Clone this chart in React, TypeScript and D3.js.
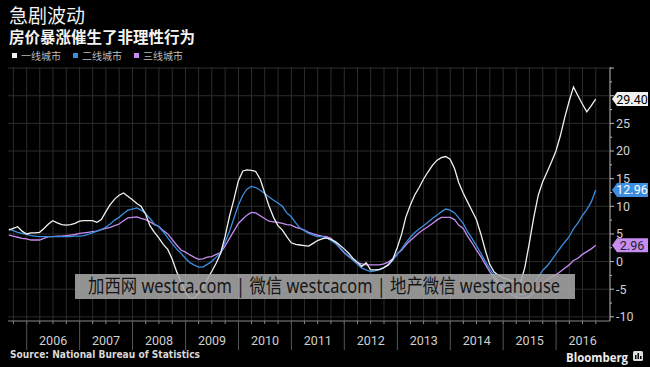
import React, { useEffect } from "react";
import * as d3 from "d3";

const W = 650;
const H = 367;

// year-on-year home price change, %, monthly from Aug 2005 to Sep 2016
const tier1 = [
  5.7, 6.0, 6.3, 5.5, 5.0, 5.2, 5.2, 5.3, 6.0, 6.8, 7.4, 7.0, 6.7, 6.6, 6.7, 6.9, 7.3, 7.4, 7.4, 7.4,
  7.1, 7.6, 9.0, 10.3, 11.3, 12.0, 12.4, 11.8, 11.2, 10.5, 10.0, 8.6, 6.5, 5.3, 4.3, 3.1, 2.2, 0.5, -1.8, -3.7,
  -5.6, -6.6, -6.6, -5.8, -4.6, -3.2, -1.8, -0.3, 1.5, 4.5, 8.2, 11.2, 14.6, 16.4, 16.6, 16.5, 16.3, 14.9, 12.5, 10.0,
  8.0, 6.5, 5.7, 4.5, 3.4, 3.1, 3.0, 2.9, 2.8, 3.3, 3.8, 4.1, 4.3, 4.0, 3.6, 3.0, 2.3, 1.5, 0.6, -0.1,
  -0.9, -0.2, -1.5, -1.5, -1.4, -1.1, -0.6, 0.4, 2.5, 5.0, 8.0, 10.2, 12.0, 13.4, 14.9, 16.2, 17.4, 18.3, 18.8, 19.0,
  18.5, 16.8, 14.3, 12.4, 10.8, 9.2, 7.6, 5.0, 2.0, -0.5, -1.9, -2.5, -2.9, -3.2, -3.5, -3.7, -3.9, -1.0, 3.3, 8.0,
  12.0, 14.4, 16.2, 18.0, 20.0, 22.8, 26.0, 29.0, 31.6, 30.0, 28.5, 27.1, 28.2, 29.4,
];
const tier2 = [
  5.9, 5.6, 5.3, 5.1, 4.9, 4.7, 4.6, 4.5, 4.5, 4.5, 4.5, 4.5, 4.5, 4.5, 4.5, 4.6, 4.6, 4.7, 4.9, 5.2,
  5.5, 5.8, 6.2, 6.8, 7.5, 8.0, 8.7, 9.3, 9.5, 9.7, 9.3, 8.7, 7.8, 6.8, 6.3, 5.4, 4.3, 3.3, 2.3, 1.5,
  0.6, -0.2, -0.6, -1.0, -1.0, -0.5, 0.0, 0.8, 1.6, 3.5, 5.5, 7.8, 10.2, 12.0, 13.1, 13.6, 13.4, 12.9, 12.3, 11.7,
  11.1, 10.6, 10.0, 8.8, 8.1, 7.0, 6.1, 5.6, 5.1, 4.8, 4.5, 4.5, 4.3, 3.8, 3.3, 2.6, 1.7, 1.0, 0.3, -0.5,
  -1.2, -1.5, -1.8, -1.7, -1.5, -1.1, -0.5, 0.2, 1.3, 2.3, 3.4, 4.4, 5.2, 5.9, 6.5, 7.1, 7.8, 8.4, 9.0, 9.5,
  9.3, 8.8, 7.9, 6.9, 5.4, 4.2, 2.9, 1.5, 0.0, -1.3, -2.4, -3.6, -4.3, -4.9, -5.4, -5.8, -6.0, -5.9, -5.3, -4.0,
  -2.8, -1.6, -0.8, 0.2, 1.4, 2.5, 3.5, 4.5, 5.9, 7.0, 8.3, 9.4, 10.8, 12.96,
];
const tier3 = [
  4.8, 4.6, 4.4, 4.2, 4.1, 3.9, 3.9, 3.9, 4.2, 4.5, 4.5, 4.6, 4.6, 4.7, 4.8, 4.9, 5.1, 5.2, 5.3, 5.4,
  5.5, 5.8, 6.0, 6.2, 6.5, 6.8, 7.4, 7.9, 8.0, 8.1, 7.8, 7.6, 7.2, 6.7, 6.4, 5.6, 5.0, 4.0, 3.0, 2.1,
  1.7, 1.2, 0.8, 0.4, 0.5, 0.8, 0.9, 1.3, 1.6, 2.8, 4.2, 5.5, 6.9, 7.7, 8.4, 8.9, 8.8, 8.3, 7.8, 7.3,
  7.2, 7.1, 6.9, 6.7, 6.6, 6.2, 6.0, 5.7, 5.3, 5.0, 4.8, 4.6, 4.5, 4.2, 3.4, 2.5, 1.6, 0.9, 0.3, -0.2,
  -0.4, -0.6, -0.6, -0.6, -0.6, -0.4, -0.1, 0.5, 1.4, 2.1, 3.0, 3.8, 4.5, 5.2, 5.8, 6.3, 6.9, 7.5, 8.0, 8.0,
  8.0, 7.6, 6.6, 6.0, 4.6, 3.4, 2.1, 0.9, -0.5, -1.8, -3.0, -4.2, -5.0, -5.6, -6.0, -6.4, -6.6, -6.6, -6.3, -5.6,
  -4.8, -4.1, -3.3, -2.8, -2.4, -1.8, -1.2, -0.6, 0.2, 0.6, 1.3, 1.8, 2.3, 2.96,
];

const seriesNames = ["一线城市", "二线城市", "三线城市"];
const seriesColors = ["#f0f0f0", "#3b8ee0", "#c68cf2"];
const lastLabels = ["29.40", "12.96", "2.96"];
const yTicks = [-10, -5, 0, 5, 10, 15, 20, 25];
const years = d3.range(2006, 2017);

const months = d3.range(tier1.length).map((i) => new Date(2005, 8 + i, 0));

const x = d3
  .scaleTime()
  .domain([new Date(2005, 7, 25), new Date(2016, 11, 31)])
  .range([8, 609]);
const y = d3.scaleLinear().domain([-10.75, 35.2]).range([321, 67]);

const line = d3
  .line<number>()
  .x((d, i) => x(months[i]))
  .y((d) => y(d));

const quarters = d3.timeMonth.every(3)!.range(new Date(2005, 9, 1), new Date(2017, 0, 1));
const numFont = "Roboto, 'Liberation Sans', sans-serif";
const cjkFont = "'Noto Sans CJK SC', sans-serif";

const App = () => {
  useEffect(() => {
    document.body.style.margin = "0";
    document.body.style.background = "#000";
  }, []);

  const series = [tier1, tier2, tier3];
  const tagText = ["#000", "#fff", "#222"];

  return (
    <svg width={W} height={H} style={{ position: "absolute", left: 0, top: 0, background: "#000" }}>
      <rect width={W} height={H} fill="#000" />

      <text x={9} y={23} fill="#f4f4f4" fontSize={19} fontFamily={cjkFont}>
        急剧波动
      </text>
      <text x={9} y={43} fill="#f4f4f4" fontSize={15.5} fontWeight="bold" fontFamily={cjkFont}>
        房价暴涨催生了非理性行为
      </text>

      {seriesNames.map((n, i) => (
        <g key={n} transform={`translate(${[12, 73, 134][i]},0)`}>
          <rect x={0} y={53} width={5} height={5} fill={seriesColors[i]} />
          <text x={9} y={60} fill="#bdbdbd" fontSize={10} fontFamily={cjkFont}>
            {n}
          </text>
        </g>
      ))}

      {/* grid */}
      {quarters.map((d) => (
        <line key={+d} x1={x(d)} x2={x(d)} y1={67} y2={321} stroke="#2c2c2c" />
      ))}
      {d3.range(-10, 36, 5).map((v) => (
        <line key={v} x1={8} x2={609} y1={y(v)} y2={y(v)} stroke="#2c2c2c" />
      ))}

      {/* x axis */}
      <line x1={8} x2={610} y1={321} y2={321} stroke="#888" />
      {quarters.map((d) => (
        <line key={"t" + +d} x1={x(d)} x2={x(d)} y1={321} y2={324} stroke="#888" />
      ))}
      {years.map((yr) => {
        const x0 = x(new Date(yr, 0, 1));
        const x1 = x(new Date(yr + 1, 0, 1));
        return (
          <g key={yr}>
            <line x1={x0} x2={x0} y1={321} y2={350} stroke="#555" />
            <text
              x={Math.min((x0 + x1) / 2, 583)}
              y={345}
              textAnchor="middle"
              fill="#cfcfcf"
              fontSize={12.5}
              fontFamily={numFont}
            >
              {yr}
            </text>
          </g>
        );
      })}

      {/* y axis */}
      <line x1={610} x2={610} y1={67} y2={321} stroke="#bbb" />
      {d3.range(-10, 36, 2.5).map((v) => (
        <line key={v} x1={610} x2={v % 5 === 0 ? 614 : 612} y1={y(v)} y2={y(v)} stroke="#bbb" />
      ))}
      {yTicks.map((v) => (
        <text key={v} x={616} y={y(v)} dy="0.35em" fill="#d0d0d0" fontSize={12.5} fontFamily={numFont}>
          {v}
        </text>
      ))}

      {/* series */}
      {[2, 1, 0].map((i) => (
        <path key={i} d={line(series[i]) ?? ""} fill="none" stroke={seriesColors[i]} strokeWidth={1.3} />
      ))}

      {/* end value tags */}
      {series.map((s, i) => {
        const cy = y(s[s.length - 1]);
        return (
          <g key={i}>
            <path
              d={`M612,${cy} L617,${cy - 7} L648,${cy - 7} L648,${cy + 7} L617,${cy + 7} Z`}
              fill={seriesColors[i]}
            />
            <text x={632} y={cy} dy="0.36em" textAnchor="middle" fill={tagText[i]} fontSize={12.5} fontFamily={numFont}>
              {lastLabels[i]}
            </text>
          </g>
        );
      })}

      {/* watermark */}
      <rect x={75} y={274} width={500} height={25} fill="#a6a6a6" opacity={0.88} />
      <text
        x={88}
        y={293}
        fill="#161616"
        fontSize={19}
        fontFamily="'Noto Sans', 'Open Sans', 'Noto Sans CJK SC', sans-serif"
        textLength={472}
        lengthAdjust="spacingAndGlyphs"
      >
        加西网 westca.com | 微信 westcacom | 地产微信 westcahouse
      </text>

      <text x={10} y={358} fill="#d8d8d8" fontSize={10} fontWeight="bold" fontFamily="'DejaVu Sans', sans-serif" textLength={190} lengthAdjust="spacingAndGlyphs">
        Source: National Bureau of Statistics
      </text>
      <text x={566} y={362} fill="#eee" fontSize={13} fontWeight="bold" fontFamily="'Open Sans', sans-serif" textLength={62} lengthAdjust="spacingAndGlyphs">
        Bloomberg
      </text>
      <rect x={633} y={351} width={10} height={10} rx={1.5} fill="#ddd" />
      <rect x={635} y={355} width={1.5} height={4} fill="#000" />
      <rect x={637.5} y={353} width={1.5} height={6} fill="#000" />
      <rect x={640} y={356} width={1.5} height={3} fill="#000" />
    </svg>
  );
};

export default App;
